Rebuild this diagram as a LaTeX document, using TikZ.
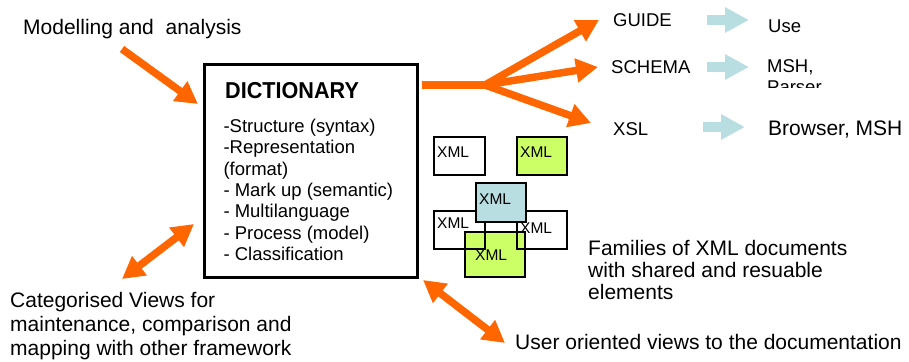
\documentclass[tikz,border=0pt]{standalone}
\usepackage{fontspec}
\usepackage{graphicx}
\setmainfont{Liberation Sans}
\usetikzlibrary{arrows.meta}
\definecolor{orng}{HTML}{FF6600}
\definecolor{lblue}{HTML}{B8DEE2}
\definecolor{lgreen}{HTML}{CCFF66}
\newcommand{\mylines}[1]{\begin{tabular}[t]{@{}l@{}}#1\end{tabular}}
\begin{document}
\begin{tikzpicture}[x=1pt,y=-1pt,
  txt/.style={inner sep=0pt, anchor=base west, font=\fontsize{21}{24}\selectfont},
  smalltxt/.style={inner sep=0pt, anchor=base west, font=\fontsize{18.5}{21.4}\selectfont},
  xmltxt/.style={inner sep=0pt, anchor=base west, font=\fontsize{15.5}{18}\selectfont},
  xmlbox/.style={draw=black, line width=2pt, inner sep=0pt},
  orangearrow/.style={draw=orng, line width=7.5pt, line join=round, -{Triangle[length=22pt,width=23pt]}},
  orangedouble/.style={draw=orng, line width=7.5pt, {Triangle[length=22pt,width=23pt]}-{Triangle[length=22pt,width=23pt]}},
  bluearrow/.style={draw=lblue, line width=10pt, -{Triangle[length=24pt,width=24pt]}}]
\useasboundingbox (0,0) rectangle (909,361);

% dictionary box
\node[draw=black, line width=3pt, inner sep=0pt, minimum width=212.5pt, minimum height=212.5pt] (dict) at (310.75,170.75) {};
\node[inner sep=0pt, anchor=base west, font=\bfseries\fontsize{23}{26}\selectfont] (dtitle) at (225,98.3) {\scalebox{0.94}[1]{DICTIONARY}};
\node[smalltxt] (dbody) at (223.3,132.3) {\mylines{-Structure (syntax)\\-Representation\\(format)\\- Mark up (semantic)\\- Multilanguage\\- Process (model)\\- Classification}};

% texts
\node[txt] (model) at (23,34.5) {Modelling and\ \ analysis};
\node[smalltxt] (guide) at (613,26.7) {GUIDE};
\node[smalltxt] (use) at (768,32.3) {Use};
\node[smalltxt] (schema) at (611,74) {SCHEMA};
\node[smalltxt] (msh) at (767,72.7) {MSH,};
\begin{scope}
\clip (740,40) rectangle (909,87);
\node[smalltxt] (parser) at (767,93.5) {Parser};
\end{scope}
\node[smalltxt] (xsl) at (613,135) {XSL};
\node[txt] (browser) at (768,135) {Browser, MSH};
\node[txt] (families) at (588,255) {\fontsize{21}{22.3}\selectfont\mylines{Families of XML documents\\with shared and resuable\\elements}};
\node[txt] (user) at (515,349.3) {User oriented views to the documentation};
\node[txt] (categ) at (10,307.3) {\mylines{Categorised Views for\\maintenance, comparison and\\mapping with other framework}};

% XML boxes
\node[xmlbox, fill=lgreen, minimum width=60pt, minimum height=45pt] (xf) at (495,254.5) {};
\node[xmlbox, minimum width=51pt, minimum height=38pt] (xd) at (459.5,230) {};
\node[xmlbox, minimum width=50pt, minimum height=38pt] (xe) at (542,230) {};
\node[xmlbox, fill=lblue, minimum width=50pt, minimum height=39pt] (xc) at (501,202.5) {};
\node[xmlbox, fill=white, minimum width=51pt, minimum height=38pt] (xa) at (459.5,156) {};
\node[xmlbox, fill=lgreen, minimum width=50pt, minimum height=38pt] (xb) at (542,156) {};
\node[xmltxt] (ta) at (437,157) {XML};
\node[xmltxt] (tb) at (520,157) {XML};
\node[xmltxt] (tc) at (479,204) {XML};
\node[xmltxt] (td) at (437,228) {XML};
\node[xmltxt] (te) at (520,233) {XML};
\node[xmltxt] (tf) at (475,260) {XML};

% coordinates
\coordinate (mtail) at (122,49);
\coordinate (mtip) at (198,104);
\coordinate (ctip1) at (122,279);
\coordinate (ctip2) at (194,224);
\coordinate (utip1) at (423,280);
\coordinate (utip2) at (505,343);
\coordinate (fstart) at (422,85);
\coordinate (fork) at (485,85);
\coordinate (gtip) at (599,20);
\coordinate (stip) at (598,67);
\coordinate (xtip) at (591,123);
\coordinate (bg1) at (707,20);
\coordinate (bg2) at (749,20);
\coordinate (bs1) at (707,67);
\coordinate (bs2) at (749,67);
\coordinate (bx1) at (703,127);
\coordinate (bx2) at (745,127);

% orange arrows
\draw[orangearrow] (mtail) -- (mtip);
\draw[orangedouble] (ctip1) -- (ctip2);
\draw[orangedouble] (utip1) -- (utip2);
\draw[orangearrow] (fstart) -- (fork) -- (gtip);
\draw[orangearrow] (fstart) -- (fork) -- (stip);
\draw[orangearrow] (fstart) -- (fork) -- (xtip);

% light blue arrows
\draw[bluearrow] (bg1) -- (bg2);
\draw[bluearrow] (bs1) -- (bs2);
\draw[bluearrow] (bx1) -- (bx2);
\end{tikzpicture}
\end{document}
